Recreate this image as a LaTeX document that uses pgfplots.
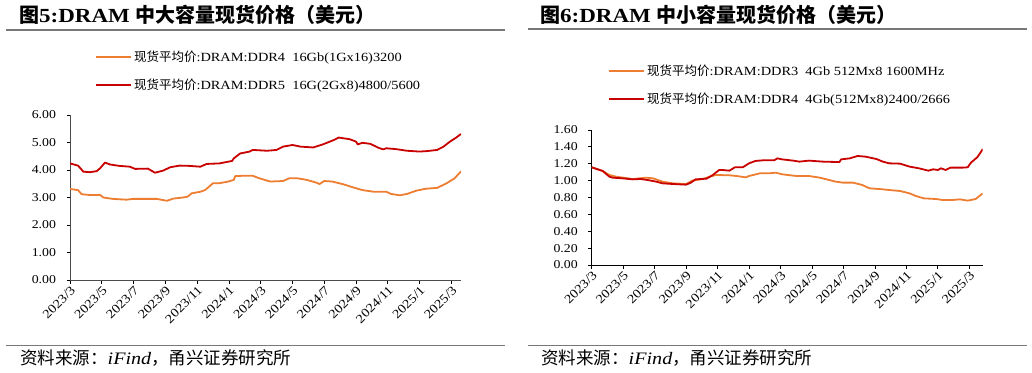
\documentclass[border=0pt]{standalone}
\usepackage{pgfplots}
\pgfplotsset{compat=1.18}
\usepackage{fontspec}
\setmainfont{Liberation Serif}[FakeStretch=1.15]
\newfontfamily\cjk{Noto Sans CJK SC}
\definecolor{cOr}{RGB}{237,125,49}
\definecolor{cRd}{RGB}{200,0,0}
\definecolor{cRule}{RGB}{120,120,120}
\pgfplotsset{
  myax/.style={
    scale only axis, anchor=origin,
    axis x line=bottom, axis y line=left,
    axis line style={-, black, line width=0.8pt},
    tick align=outside, major tick length=3.5pt,
    tick style={black, line width=0.8pt},
    xmin=0, ymin=0,
    xtick={0,2,...,24},
    xticklabels={2023/3,2023/5,2023/7,2023/9,2023/11,2024/1,2024/3,2024/5,2024/7,2024/9,2024/11,2025/1,2025/3},
    xticklabel style={rotate=45, anchor=north east, inner sep=1pt, font=\fontsize{12.5}{14}\selectfont},
    yticklabel style={font=\fontsize{12}{14}\selectfont, xshift=-7pt},
    /pgf/number format/.cd, fixed, fixed zerofill, precision=2, assume math mode=true,
    /pgfplots/.cd,
    legend style={draw=none, fill=none, inner sep=0pt, row sep=12pt,
      font=\fontsize{12.5}{14}\selectfont, legend cell align=left},
    legend image code/.code={\draw[#1] (0pt,0pt) -- (35pt,0pt);},
    every axis plot/.append style={line width=1.8pt, line join=round},
  }
}
\begin{document}
\begin{tikzpicture}
\useasboundingbox (0pt,0pt) rectangle (1032pt,372pt);
% titles and rules
\node[anchor=west, inner sep=0pt, font=\fontsize{20}{22}\selectfont\bfseries] at (19pt,357pt) {{\cjk 图}5:DRAM {\cjk 中大容量现货价格（美元）}};
\node[anchor=west, inner sep=0pt, font=\fontsize{20}{22}\selectfont\bfseries] at (540pt,357pt) {{\cjk 图}6:DRAM {\cjk 中小容量现货价格（美元）}};
\draw[cRule, line width=1.2pt] (6pt,342pt) -- (505pt,342pt);
\draw[cRule, line width=1.2pt] (528pt,343pt) -- (1027pt,343pt);
\draw[cRule, line width=1.2pt] (6pt,26.5pt) -- (505pt,26.5pt);
\draw[cRule, line width=1.2pt] (528pt,26.5pt) -- (1027pt,26.5pt);
\node[anchor=west, inner sep=0pt, font=\fontsize{17.5}{19}\selectfont] at (20pt,14pt) {{\cjk 资料来源：}\textit{iFind}{\cjk ，甬兴证券研究所}};
\node[anchor=west, inner sep=0pt, font=\fontsize{17.5}{19}\selectfont] at (541pt,14pt) {{\cjk 资料来源：}\textit{iFind}{\cjk ，甬兴证券研究所}};

\begin{axis}[myax, at={(70pt,92pt)}, width=391pt, height=165pt, xmax=24.6, ymax=6, ytick={0,1,...,6},
  axis line style={black!70},
  legend style={at={(axis description cs:0.064,1.40)}, anchor=north west}]
\addplot[cOr] coordinates {
(0,3.31)(0.5,3.27)(0.73,3.12)(1.26,3.09)(1.9,3.09)(2.1,3.0)(2.7,2.95)(3.56,2.92)(3.98,2.95)(4.4,2.95)(5.45,2.95)(6.1,2.88)(6.5,2.96)(7.1,3.0)(7.4,3.03)(7.65,3.15)(8.2,3.21)(8.5,3.27)(9.0,3.52)(9.4,3.52)(9.96,3.58)(10.3,3.64)(10.4,3.78)(10.9,3.79)(11.5,3.79)(11.9,3.70)(12.6,3.58)(13.4,3.60)(13.8,3.70)(14.3,3.70)(14.9,3.64)(15.5,3.54)(15.7,3.49)(16.0,3.60)(16.5,3.58)(17.2,3.48)(17.8,3.37)(18.4,3.27)(19.1,3.21)(19.9,3.21)(20.2,3.13)(20.75,3.08)(21.2,3.13)(21.8,3.25)(22.4,3.32)(23.1,3.35)(23.7,3.52)(24.2,3.70)(24.6,3.95)};
\addlegendentry{{\cjk 现货平均价}:DRAM:DDR4\ \ 16Gb(1Gx16)3200}
\addplot[cRd] coordinates {
(0,4.24)(0.5,4.16)(0.63,4.08)(0.84,3.94)(1.26,3.92)(1.68,3.96)(1.89,4.06)(2.2,4.27)(2.52,4.2)(3.1,4.15)(3.77,4.12)(4.09,4.04)(4.9,4.05)(5.35,3.90)(5.87,3.98)(6.3,4.1)(6.9,4.16)(7.5,4.15)(8.2,4.12)(8.6,4.22)(9.4,4.24)(10.2,4.33)(10.3,4.42)(10.7,4.6)(11.3,4.67)(11.5,4.73)(12.4,4.70)(13.0,4.73)(13.4,4.85)(14.0,4.91)(14.5,4.85)(15.3,4.82)(15.9,4.93)(16.6,5.09)(16.9,5.18)(17.6,5.12)(18.0,5.03)(18.1,4.93)(18.4,4.99)(18.9,4.95)(19.4,4.81)(19.7,4.75)(19.9,4.79)(20.5,4.76)(21.2,4.70)(22.0,4.67)(22.5,4.69)(23.1,4.73)(23.5,4.85)(23.9,5.03)(24.3,5.18)(24.6,5.31)};
\addlegendentry{{\cjk 现货平均价}:DRAM:DDR5\ \ 16G(2Gx8)4800/5600}
\end{axis}

\begin{axis}[myax, at={(591.7pt,107pt)}, width=391pt, height=135pt, xmax=24.85, ymax=1.6, ytick={0,0.2,...,1.61},
  legend style={at={(axis description cs:0.042,1.496)}, anchor=north west}]
\addplot[cOr] coordinates {
(0,1.158)(0.7,1.114)(1.12,1.067)(1.55,1.047)(2.6,1.019)(3.45,1.035)(3.9,1.027)(4.5,0.988)(5.15,0.968)(6.0,0.96)(6.4,1.0)(7.05,1.019)(7.5,1.047)(7.9,1.067)(8.75,1.063)(9.2,1.055)(9.8,1.039)(10.0,1.055)(10.7,1.087)(11.3,1.087)(11.7,1.094)(12.1,1.075)(13.0,1.055)(13.8,1.055)(14.5,1.035)(15.1,1.007)(15.5,0.988)(15.95,0.976)(16.6,0.976)(17.2,0.948)(17.65,0.909)(18.5,0.897)(18.9,0.889)(19.6,0.877)(20.2,0.849)(20.6,0.818)(21.1,0.790)(21.9,0.782)(22.3,0.770)(22.9,0.770)(23.4,0.778)(23.9,0.763)(24.4,0.782)(24.85,0.849)};
\addlegendentry{{\cjk 现货平均价}:DRAM:DDR3\ \ 4Gb 512Mx8 1600MHz}
\addplot[cRd] coordinates {
(0,1.158)(0.7,1.114)(1.12,1.047)(1.33,1.035)(1.97,1.027)(2.6,1.015)(3.1,1.019)(3.56,1.007)(4.1,0.988)(4.5,0.968)(5.15,0.96)(6.0,0.952)(6.3,0.976)(6.6,1.015)(7.3,1.023)(7.7,1.067)(8.1,1.126)(8.3,1.126)(8.75,1.118)(9.1,1.158)(9.6,1.158)(10.0,1.205)(10.4,1.233)(10.9,1.241)(11.6,1.241)(11.8,1.264)(12.1,1.252)(12.8,1.237)(13.2,1.225)(13.8,1.237)(14.7,1.225)(15.5,1.221)(15.75,1.221)(15.85,1.252)(16.4,1.264)(16.9,1.292)(17.4,1.284)(18.1,1.256)(18.5,1.225)(18.9,1.205)(19.6,1.201)(20.2,1.166)(20.8,1.146)(21.4,1.118)(21.7,1.134)(22.0,1.126)(22.2,1.146)(22.5,1.126)(22.8,1.154)(23.6,1.154)(23.9,1.158)(24.1,1.213)(24.5,1.276)(24.75,1.343)(24.85,1.375)};
\addlegendentry{{\cjk 现货平均价}:DRAM:DDR4\ \ 4Gb(512Mx8)2400/2666}
\end{axis}
\end{tikzpicture}
\end{document}
